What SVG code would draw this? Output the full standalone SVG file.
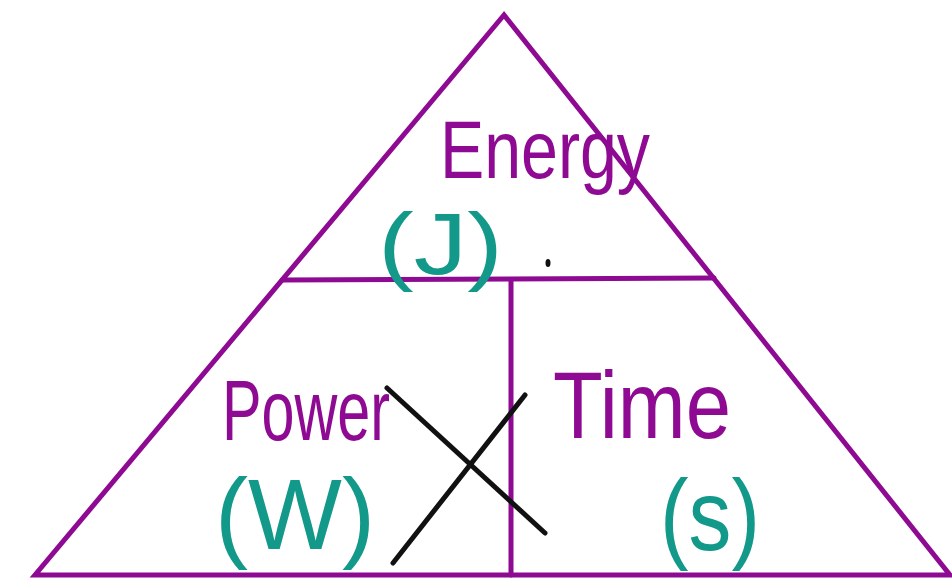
<svg xmlns="http://www.w3.org/2000/svg" width="952" height="578" viewBox="0 0 952 578">
<style>
.frame{fill:none;stroke:#8E0A92;stroke-width:5;stroke-linecap:round;stroke-linejoin:miter}
.qty{font-family:"Liberation Sans",Arial,sans-serif;fill:#8E0A92}
.unit{font-family:"Liberation Sans",Arial,sans-serif;fill:#12998A}
.cross{stroke:#111;stroke-width:5;stroke-linecap:round;fill:none}
</style>
<rect width="952" height="578" fill="#fff"/>
<g id="triangle">
<polygon class="frame" points="504,15 35,575 950,575"/>
<line class="frame" x1="282" y1="280" x2="714" y2="278"/>
<line class="frame" x1="511" y1="280" x2="511" y2="575"/>
</g>
<g id="energy">
<text class="qty" x="440" y="178" font-size="82" textLength="210" lengthAdjust="spacingAndGlyphs">Energy</text>
<text class="unit" x="378" y="274" font-size="88" textLength="125" lengthAdjust="spacingAndGlyphs">(J)</text>
</g>
<g id="power">
<text class="qty" x="222" y="440" font-size="86" textLength="168" lengthAdjust="spacingAndGlyphs">Power</text>
<text class="unit" x="215" y="549" font-size="100" textLength="160" lengthAdjust="spacingAndGlyphs">(W)</text>
</g>
<g id="time">
<text class="qty" x="553" y="438" font-size="94" textLength="178" lengthAdjust="spacingAndGlyphs">Time</text>
<text class="unit" x="660" y="550" font-size="100" textLength="100" lengthAdjust="spacingAndGlyphs">(s)</text>
</g>
<g id="marks">
<line class="cross" x1="387" y1="388" x2="545" y2="533"/>
<line class="cross" x1="525" y1="395" x2="393" y2="563"/>
<ellipse cx="548" cy="263" rx="2.5" ry="4" fill="#111"/>
</g>
</svg>
